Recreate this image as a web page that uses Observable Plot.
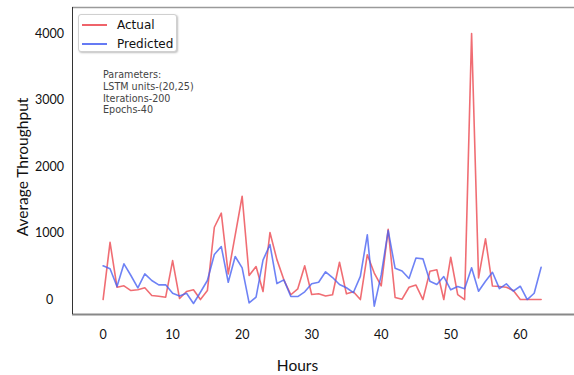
<!DOCTYPE html>
<html><head><meta charset="utf-8">
<script src="https://cdn.jsdelivr.net/npm/d3@7"></script>
<script src="https://cdn.jsdelivr.net/npm/@observablehq/plot@0.6"></script>
<style>
body{margin:0;background:#fff}
#wrap{position:relative;width:574px;height:375px;overflow:hidden}
#legend{position:absolute;left:78px;top:14px;width:97px;height:36px;border:1px solid #d0d0d0;border-radius:3px;background:#fff;box-shadow:1px 1px 2px rgba(0,0,0,0.25);font-family:"DejaVu Sans",sans-serif;font-size:12px;color:#111}
.row{position:absolute;left:0;height:18px;width:97px}
.sw{position:absolute;left:3px;top:8px;width:25px;height:0;border-top:2px solid}
.lab{position:absolute;left:38px;top:0;line-height:18px}
#params{position:absolute;left:103px;top:69px;font-family:"DejaVu Sans",sans-serif;font-size:9.6px;line-height:11.8px;color:#444;white-space:pre}
</style>
</head><body><div id="wrap"></div>
<script>
// Hours 0..63 (index)
const actual = [0,860,185,206,135,146,176,60,50,35,586,15,120,146,0,135,1087,1298,386,970,1553,361,496,120,1008,600,296,72,161,507,75,86,53,72,561,86,117,0,674,398,205,1056,30,5,185,218,0,424,447,0,636,75,0,4000,326,913,203,195,185,135,0,0,0,0];
const predicted = [507,462,195,537,361,176,386,286,221,221,95,53,95,-60,110,286,677,797,260,647,477,-50,35,592,827,240,296,45,45,116,236,260,417,331,226,177,105,349,973,-100,370,1038,469,429,316,624,612,274,226,346,146,195,161,477,125,275,410,165,236,125,200,0,95,486];
const seriesNames = ["Actual","Predicted"];
const seriesColors = ["#ec4850","#4a63f2"];
const xTicks = [0,10,20,30,40,50,60];
const yTicks = [0,1000,2000,3000,4000];
const xDomain = [-4.4, 67.8];
const yDomain = [-225, 4391];
const paramLines = ["Parameters:","LSTM units-(20,25)","Iterations-200","Epochs-40"];

const rows = [];
actual.forEach((v,i)=>rows.push({hour:i,value:v,series:"Actual"}));
predicted.forEach((v,i)=>rows.push({hour:i,value:v,series:"Predicted"}));

const chart = Plot.plot({
  width:574, height:375,
  marginLeft:72, marginRight:0, marginTop:7, marginBottom:61,
  style:{fontFamily:"Lato, 'Open Sans', sans-serif", background:"white", color:"#111"},
  x:{domain:xDomain},
  y:{domain:yDomain},
  color:{domain:seriesNames, range:seriesColors},
  marks:[
    Plot.ruleY([yDomain[1]], {stroke:"#9a9a9a", strokeWidth:1.5}),
    Plot.ruleY([yDomain[0]], {stroke:"#888", strokeWidth:2}),
    Plot.ruleX([xDomain[0]], {stroke:"#333", strokeWidth:1}),
    Plot.axisX({ticks:xTicks, tickFormat:d3.format("d"), tickSize:0, tickPadding:16, fontSize:12.5, label:"Hours", labelAnchor:"center", labelOffset:56, labelArrow:"none"}),
    Plot.axisY({ticks:yTicks, tickFormat:d3.format("d"), tickSize:0, tickPadding:23, textAnchor:"middle", fontSize:12.5, label:"Average Throughput", labelAnchor:"center", labelOffset:56, labelArrow:"none"}),
    Plot.line(rows, {x:"hour", y:"value", z:"series", stroke:"series", strokeWidth:1.6, strokeOpacity:0.8})
  ]
});
chart.querySelectorAll("text").forEach(t=>{
  if (t.textContent==="Hours"||t.textContent==="Average Throughput") t.style.fontSize="15.5px";
  if (t.textContent==="Hours") t.setAttribute("dx","-26");
  if (t.textContent==="Average Throughput") t.setAttribute("dx","-6");
});
const wrap = document.getElementById("wrap");
wrap.appendChild(chart);

const leg = document.createElement("div");
leg.id="legend";
seriesNames.forEach((n,i)=>{
  const r=document.createElement("div"); r.className="row"; r.style.top=(i*18.5+1)+"px";
  const s=document.createElement("div"); s.className="sw"; s.style.borderTopColor=seriesColors[i]; s.style.opacity="0.85";
  const l=document.createElement("div"); l.className="lab"; l.textContent=n;
  r.appendChild(s); r.appendChild(l); leg.appendChild(r);
});
wrap.appendChild(leg);
const p=document.createElement("div"); p.id="params"; p.textContent=paramLines.join("\n");
wrap.appendChild(p);
</script>
</body></html>
